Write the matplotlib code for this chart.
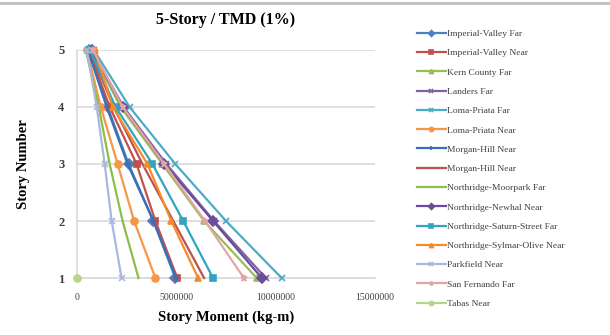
import numpy as np
import matplotlib
matplotlib.use("Agg")
import matplotlib.pyplot as plt
from matplotlib.lines import Line2D

plt.rcParams['font.family'] = ['Liberation Serif', 'DejaVu Serif']

stories = [1, 2, 3, 4, 5]

# story moments (kg-m), story 1 -> 5
names = [
    "Imperial-Valley Far", "Imperial-Valley Near", "Kern County Far", "Landers Far",
    "Loma-Priata Far", "Loma-Priata Near", "Morgan-Hill Near", "Morgan-Hill Near",
    "Northridge-Moorpark Far", "Northridge-Newhal Near", "Northridge-Saturn-Street Far",
    "Northridge-Sylmar-Olive Near", "Parkfield Near", "San Fernando Far", "Tabas Near",
]
imperial_far = [4950000, 3850000, 2600000, 1550000, 600000]
imperial_near = [5050000, 3950000, 3000000, 1650000, 600000]
kern_far = [9050000, 6400000, 4300000, 2200000, 700000]
landers_far = [9500000, 6900000, 4500000, 2350000, 750000]
loma_far = [10300000, 7500000, 4950000, 2650000, 850000]
loma_near = [3950000, 2880000, 2050000, 1200000, 500000]
morgan_near_a = [5000000, 3850000, 2550000, 1500000, 550000]
morgan_near_b = [6400000, 4850000, 3300000, 1850000, 650000]
moorpark_far = [3100000, 2300000, 1650000, 1100000, 450000]
newhal_near = [9300000, 6850000, 4400000, 2300000, 750000]
saturn_far = [6850000, 5350000, 3800000, 1950000, 650000]
sylmar_near = [6100000, 4750000, 3550000, 1800000, 900000]
parkfield_near = [2250000, 1750000, 1400000, 1000000, 500000]
sanfernando_far = [8400000, 6450000, 4400000, 2300000, 800000]
tabas_near = [0, np.nan, np.nan, np.nan, np.nan]

series = [imperial_far, imperial_near, kern_far, landers_far, loma_far, loma_near,
          morgan_near_a, morgan_near_b, moorpark_far, newhal_near, saturn_far,
          sylmar_near, parkfield_near, sanfernando_far, tabas_near]

colors = ["#4F81BD", "#C0504D", "#9BBB59", "#8064A2", "#4BACC6", "#F79646",
          "#3C6EB4", "#C0504D", "#8DBE48", "#6A4C9C", "#31A5C0", "#F58A2C",
          "#A9B8DC", "#E3A5A4", "#B8D48A"]
markers = ["D", "s", "^", "x", "x", "o", "+", "", "", "D", "s", "^", "x", "*", "o"]

fig = plt.figure(figsize=(6.1, 3.35), dpi=100)
ax = fig.add_axes([0.126, 0.170, 0.489, 0.681])

for name, vals, c, m in zip(names, series, colors, markers):
    ax.plot(vals, stories, color=c, marker=m, markersize=5, linewidth=1.6,
            markeredgewidth=1.2, label=name, clip_on=False, zorder=3)

ax.set_xlim(0, 15000000)
ax.set_ylim(1, 5)
ax.set_xticks([0, 5000000, 10000000, 15000000])
ax.set_xticklabels(["0", "5000000", "10000000", "15000000"])
ax.set_yticks(stories)
ax.tick_params(axis='x', labelsize=7, length=0, pad=11, colors="#404040")
ax.tick_params(axis='y', labelsize=9, length=0, pad=9, colors="#404040")
for t in ax.get_yticklabels():
    t.set_fontweight('bold')
ax.grid(axis='y', color="#D9D9D9", linewidth=1.2)
ax.set_axisbelow(True)
for s in ["top", "right"]:
    ax.spines[s].set_visible(False)
ax.spines["left"].set_color("#D9D9D9")
ax.spines["bottom"].set_color("#D9D9D9")
ax.spines["left"].set_linewidth(1.2)
ax.spines["bottom"].set_linewidth(1.2)

ax.set_title("5-Story / TMD (1%)", fontsize=11.5, fontweight='bold', pad=19)
ax.set_xlabel("Story Moment (kg-m)", fontsize=10.5, fontweight='bold', labelpad=6)
ax.set_ylabel("Story Number", fontsize=10.5, fontweight='bold', labelpad=20)

fig.legend(loc='upper left', bbox_to_anchor=(0.684, 0.912), frameon=False,
           fontsize=6.8, labelspacing=1.13, handlelength=3.0, handletextpad=0.2,
           borderaxespad=0, borderpad=0, labelcolor="#404040", markerscale=0.6)

fig.add_artist(Line2D([0, 1], [0.991, 0.991], transform=fig.transFigure,
                      color="#BFBFBF", linewidth=2))

fig.savefig("out.png", dpi=100)
